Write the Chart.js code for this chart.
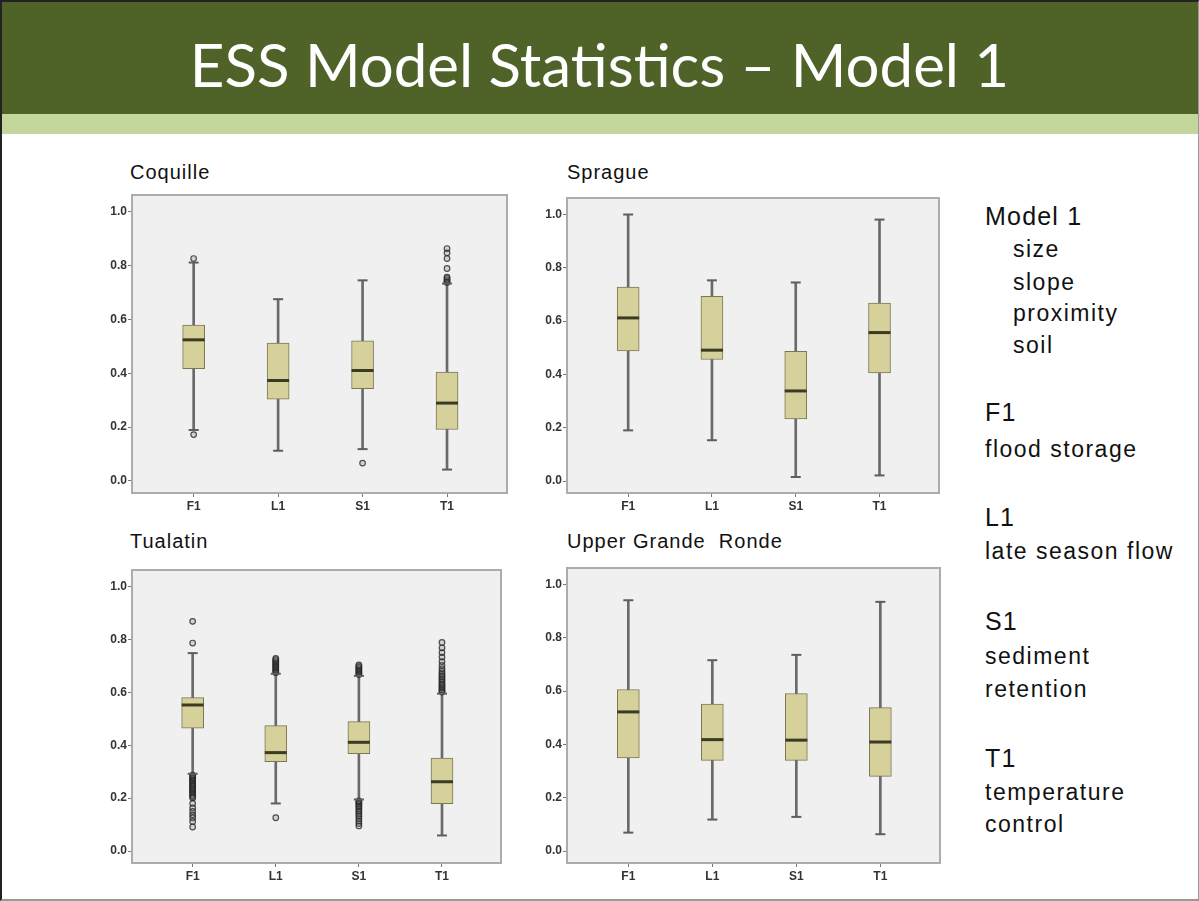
<!DOCTYPE html>
<html>
<head>
<meta charset="utf-8">
<script src="https://cdn.jsdelivr.net/npm/chart.js@4.4.1/dist/chart.umd.min.js"></script>
<style>
  body { margin: 0; width: 1199px; height: 901px; position: relative; overflow: hidden; background: #fff;
         font-family: "Liberation Sans", Arial, sans-serif; color: #1a1a1a; }
  #frame { position: absolute; left: 0; top: 0; width: 1196px; height: 897px;
           border-left: 2px solid #222; border-top: 2px solid #222; border-right: 1px solid #999; border-bottom: 2px solid #999; }
  #band { position: absolute; left: 2px; top: 2px; right: 1px; height: 112px; background: #4f6228; }
  #band2 { position: absolute; left: 2px; top: 114px; right: 1px; height: 20px; background: #c3d69b; }
  #title { position: absolute; left: 0; width: 1199px; top: 28px; text-align: center; color: #fff;
           font-family: Lato, "Open Sans", sans-serif; font-size: 60px; line-height: 72px; }
  .ptitle { position: absolute; font-size: 20px; letter-spacing: 1px; line-height: 20px; color: #111; }
  .side { position: absolute; font-size: 23px; letter-spacing: 1.5px; line-height: 24px; color: #111; }
  .head { font-size: 25px; letter-spacing: 1.2px; }
  canvas { position: absolute; }
</style>
</head>
<body>
<div id="frame"></div>
<div id="band"></div>
<div id="band2"></div>
<div id="title">ESS Model Statistics – Model 1</div>

<div class="ptitle" style="left:130px;top:162px">Coquille</div>
<div class="ptitle" style="left:567px;top:162px">Sprague</div>
<div class="ptitle" style="left:130px;top:531px">Tualatin</div>
<div class="ptitle" style="left:567px;top:531px">Upper Grande&nbsp; Ronde</div>

<div class="side head" style="left:985px;top:204px">Model 1</div>
<div class="side" style="left:1013px;top:237px">size</div>
<div class="side" style="left:1013px;top:270px">slope</div>
<div class="side" style="left:1013px;top:301px">proximity</div>
<div class="side" style="left:1013px;top:333px">soil</div>
<div class="side head" style="left:985px;top:400px">F1</div>
<div class="side" style="left:985px;top:437px">flood storage</div>
<div class="side head" style="left:985px;top:505px">L1</div>
<div class="side" style="left:985px;top:539px">late season flow</div>
<div class="side head" style="left:985px;top:609px">S1</div>
<div class="side" style="left:985px;top:644px">sediment</div>
<div class="side" style="left:985px;top:677px">retention</div>
<div class="side head" style="left:985px;top:746px">T1</div>
<div class="side" style="left:985px;top:780px">temperature</div>
<div class="side" style="left:985px;top:812px">control</div>

<canvas id="coquille"></canvas>
<canvas id="sprague"></canvas>
<canvas id="tualatin"></canvas>
<canvas id="ugr"></canvas>

<script>
// categorias y marcas del eje
const categories = ['F1', 'L1', 'S1', 'T1'];
const yTicks = [0, 0.2, 0.4, 0.6, 0.8, 1.0];

// Coquille
const coquilleBox = [[0.417, 0.579], [0.304, 0.512], [0.343, 0.520], [0.191, 0.404]];
const coquilleMedian = [0.524, 0.373, 0.410, 0.289];
const coquilleWhisker = [[0.189, 0.811], [0.112, 0.675], [0.118, 0.745], [0.042, 0.733]];
const coquilleOutliers = [
  [0.826, 0.172],
  [],
  [0.066],
  [0.737, 0.741, 0.746, 0.752, 0.757, 0.789, 0.826, 0.847, 0.863]
];

// Sprague
const spragueBox = [[0.488, 0.728], [0.456, 0.693], [0.233, 0.487], [0.406, 0.668]];
const spragueMedian = [0.612, 0.491, 0.338, 0.557];
const spragueWhisker = [[0.190, 1.0], [0.153, 0.753], [0.015, 0.745], [0.021, 0.981]];
const spragueOutliers = [[], [], [], []];

// Tualatin
const tualatinBox = [[0.464, 0.580], [0.338, 0.474], [0.368, 0.489], [0.179, 0.351]];
const tualatinMedian = [0.552, 0.372, 0.411, 0.262];
const tualatinWhisker = [[0.292, 0.748], [0.180, 0.670], [0.195, 0.662], [0.059, 0.595]];
const tualatinOutliers = [
  [0.786, 0.868, 0.287, 0.283, 0.278, 0.274, 0.269, 0.266, 0.261, 0.257, 0.253, 0.248, 0.245,
   0.240, 0.236, 0.231, 0.228, 0.223, 0.219, 0.214, 0.210, 0.205, 0.201, 0.180, 0.163, 0.150,
   0.137, 0.126, 0.112, 0.091],
  [0.674, 0.678, 0.683, 0.687, 0.692, 0.696, 0.701, 0.705, 0.710, 0.714, 0.719, 0.723, 0.728, 0.126],
  [0.667, 0.671, 0.676, 0.680, 0.685, 0.689, 0.694, 0.698, 0.703, 0.190, 0.185, 0.181, 0.176,
   0.170, 0.166, 0.159, 0.152, 0.146, 0.138, 0.131, 0.122, 0.113, 0.104, 0.095],
  [0.601, 0.605, 0.610, 0.616, 0.621, 0.627, 0.632, 0.638, 0.645, 0.651, 0.658, 0.664, 0.671,
   0.679, 0.689, 0.702, 0.716, 0.733, 0.750, 0.768, 0.788]
];

// Upper Grande Ronde
const ugrBox = [[0.349, 0.606], [0.340, 0.551], [0.340, 0.591], [0.280, 0.538]];
const ugrMedian = [0.522, 0.418, 0.416, 0.409];
const ugrWhisker = [[0.069, 0.941], [0.118, 0.716], [0.128, 0.736], [0.063, 0.935]];
const ugrOutliers = [[], [], [], []];

// fondo gris y marco del area de trazado
const marcoPlugin = {
  id: 'marco',
  beforeDraw(chart) {
    const a = chart.chartArea, c = chart.ctx;
    c.save();
    c.fillStyle = '#f0f0f0';
    c.fillRect(a.left, a.top, a.right - a.left, a.bottom - a.top);
    c.restore();
  },
  afterDraw(chart) {
    const a = chart.chartArea, c = chart.ctx;
    c.save();
    c.strokeStyle = '#acacac';
    c.lineWidth = 2;
    c.strokeRect(a.left, a.top, a.right - a.left, a.bottom - a.top);
    c.restore();
  }
};

function crearPanel(id, frame, box, median, whisker, outliers) {
  const canvas = document.getElementById(id);
  const w = frame.r - frame.l + 52, h = frame.b - frame.t + 36;
  canvas.width = w; canvas.height = h;
  canvas.style.left = (frame.l - 42) + 'px';
  canvas.style.top = (frame.t - 10) + 'px';

  const pos = categories.map((c, i) => i + 1);
  const caps = [];
  whisker.forEach((wv, i) => { caps.push({x: pos[i], y: wv[0]}); caps.push({x: pos[i], y: wv[1]}); });
  const outPts = [];
  outliers.forEach((list, i) => list.forEach(v => outPts.push({x: pos[i], y: v})));

  new Chart(canvas.getContext('2d'), {
    type: 'bar',
    data: {
      datasets: [
        {
          type: 'scatter', order: 1,
          data: median.map((v, i) => ({x: pos[i], y: v})),
          pointStyle: 'line', pointRadius: 11, pointHoverRadius: 11,
          borderColor: '#3b3a22', borderWidth: 3
        },
        {
          type: 'scatter', order: 2, data: caps,
          pointStyle: 'line', pointRadius: 5, pointHoverRadius: 5,
          borderColor: '#5e5e5e', borderWidth: 2
        },
        {
          type: 'scatter', order: 3, data: outPts,
          pointStyle: 'circle', pointRadius: 2.8, pointHoverRadius: 2.8,
          backgroundColor: 'rgba(120,120,120,0.25)', borderColor: 'rgba(40,40,40,0.8)', borderWidth: 1.2
        },
        {
          order: 4, grouped: false,
          data: box.map((b, i) => ({x: pos[i], y: b})),
          backgroundColor: '#d6d19b', borderColor: '#7b7753', borderWidth: 1,
          borderSkipped: false, barThickness: 22
        },
        {
          order: 5, grouped: false,
          data: whisker.map((b, i) => ({x: pos[i], y: b})),
          backgroundColor: '#6a6a6a', borderWidth: 0, barThickness: 2
        }
      ]
    },
    options: {
      responsive: false,
      animation: false,
      layout: { autoPadding: false, padding: { top: 10, right: 10, left: 0, bottom: 0 } },
      plugins: { legend: { display: false }, tooltip: { enabled: false } },
      scales: {
        x: {
          type: 'linear', min: 0.27, max: 4.71, offset: false,
          afterBuildTicks: s => { s.ticks = pos.map(v => ({value: v})); },
          afterFit: s => { s.height = 26; },
          grid: { offset: false, drawOnChartArea: false, drawTicks: true, tickLength: 4, color: '#777' },
          border: { display: false },
          ticks: {
            callback: v => categories[v - 1],
            font: { family: 'Liberation Sans', size: 12, weight: 'bold' },
            color: '#333', padding: 2, maxRotation: 0, autoSkip: false
          }
        },
        y: {
          min: -0.045, max: 1.062,
          afterBuildTicks: s => { s.ticks = yTicks.map(v => ({value: v})); },
          afterFit: s => { s.width = 42; },
          grid: { drawOnChartArea: false, drawTicks: true, tickLength: 4, color: '#777' },
          border: { display: false },
          ticks: {
            callback: v => v.toFixed(1),
            font: { family: 'Liberation Sans', size: 12, weight: 'bold' },
            color: '#333', padding: 1
          }
        }
      }
    },
    plugins: [marcoPlugin]
  });
}

crearPanel('coquille', {l: 132, t: 195, r: 507, b: 493}, coquilleBox, coquilleMedian, coquilleWhisker, coquilleOutliers);
crearPanel('sprague', {l: 567, t: 198, r: 939, b: 493}, spragueBox, spragueMedian, spragueWhisker, spragueOutliers);
crearPanel('tualatin', {l: 132, t: 570, r: 501, b: 863}, tualatinBox, tualatinMedian, tualatinWhisker, tualatinOutliers);
crearPanel('ugr', {l: 567, t: 568, r: 940, b: 863}, ugrBox, ugrMedian, ugrWhisker, ugrOutliers);
</script>
</body>
</html>
